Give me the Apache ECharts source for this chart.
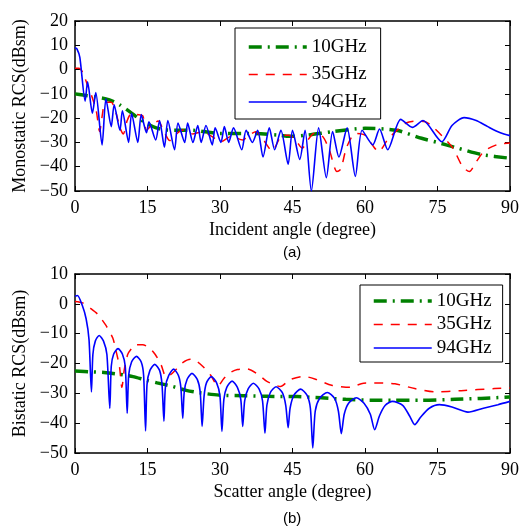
<!DOCTYPE html>
<html>
<head>
<meta charset="utf-8">
<script src="https://cdn.jsdelivr.net/npm/echarts@6/dist/echarts.min.js"></script>
<style>html,body{margin:0;padding:0;background:#fff}#c{width:522px;height:529px}</style>
</head>
<body>
<div id="c"></div>
<script>
// ---------- data (angle in degree, RCS in dBsm) ----------
const seriesNames = ['10GHz', '35GHz', '94GHz'];
const xTickStep = 15;
const xRange = [0, 90];
const yRangeTop = [-50, 20];
const yRangeBottom = [-50, 10];
const yTickStep = 10;

const mono10 = [[0,-10],[1.7,-10.5],[4.1,-11.2],[6.2,-12],[8,-13.2],[9.3,-14.6],[11.3,-17.3],[13,-19.8],[14.8,-22.2],[16.8,-24],[18.9,-24.9],[24.4,-25],[29.9,-26.3],[36,-26.3],[42.2,-27],[44.3,-27.5],[48,-27],[53.2,-25.6],[60,-24.2],[66.5,-25],[71.7,-28.3],[75,-30],[78.6,-32],[84.1,-35],[90,-36.5]];

const mono35 = [[0,0.5],[0.8,0.5],[1.7,-1.5],[2.5,-6],[3.4,-10.5],[4.4,-17],[5.1,-25.5],[5.7,-18],[6.2,-13.5],[7.5,-13.5],[8.5,-18],[9.3,-24],[10,-26.5],[10.8,-21],[11.7,-18],[12.8,-18.5],[14,-19],[14.8,-25],[15.8,-23],[17.2,-21.2],[18.3,-25],[19.6,-29.2],[21,-26.5],[22.3,-24.9],[24.4,-26.5],[26.4,-25.6],[28.3,-27.5],[30.2,-29.7],[32.3,-27.5],[34.7,-29],[36,-27],[37.4,-25.6],[39,-29],[40.8,-33.5],[42.9,-27],[44.3,-27],[45.8,-29.5],[47,-32.4],[48.2,-29],[49.4,-26.3],[51.2,-27.5],[52.6,-33],[54.2,-42],[55,-41],[56.2,-32],[58,-26.3],[60,-27],[61.5,-31],[62.8,-33.8],[64.9,-28.3],[68.5,-22],[70.4,-21.2],[72.5,-21.5],[74,-23.5],[75.8,-27],[78.2,-32.4],[80.2,-40],[81.6,-42],[83,-38],[84.7,-33.5],[87.5,-30.8],[90,-30.2]];

const mono94 = [[0,9],[0.4,8.5],[1,5],[2.1,-13],[2.6,-5],[3.6,-18],[4.3,-9.5],[5.6,-31],[6.4,-12],[7.5,-23.5],[8.1,-14.5],[9.3,-25],[9.8,-17],[11.1,-30],[11.7,-18],[13,-30],[13.7,-18.5],[14.8,-26],[15.3,-21.5],[16.7,-29],[17.5,-21],[18.5,-32],[19.2,-21],[20.6,-33],[21.3,-22],[22.7,-30],[23.3,-22],[24.4,-30],[25.4,-23],[26.1,-30],[27.1,-23],[28.4,-31],[29,-24],[30.2,-30],[30.9,-23.5],[31.8,-30],[32.8,-24],[34.5,-33],[35.4,-25],[36.7,-30],[37.8,-25],[38.9,-36],[40.2,-24],[41.3,-33],[42.6,-25],[44.1,-39],[45,-25],[46.5,-37],[47.6,-25],[48.9,-50],[50.4,-24],[52,-44.5],[53.3,-25.5],[54.6,-36],[56.3,-24],[58,-44],[59.4,-25],[61.6,-31],[63,-24.5],[64.7,-33],[67.4,-20.5],[69.8,-23.8],[72,-21],[75.9,-29.7],[78,-23],[80.5,-19.8],[83,-21],[85.4,-23.5],[88,-26],[90,-27.2]];

const bi10 = [[0,-22.5],[3.5,-22.8],[6,-23],[9.2,-23.6],[12,-24.4],[14.7,-25.6],[17,-26.5],[20.2,-27.7],[23,-29],[25.7,-29.8],[29.8,-30.6],[35,-30.8],[40,-31],[46,-31.1],[51,-31.5],[56,-32],[61.4,-32.3],[66,-32.3],[71.7,-32.3],[78.6,-32],[84,-31.7],[90,-31.2]];

const bi35 = [[0,0.8],[1.6,0.3],[3.2,-1.5],[4.7,-3.5],[6.3,-7],[7.8,-11.4],[8.6,-16.5],[9.2,-21],[9.7,-28],[10.2,-22],[10.9,-17],[11.7,-15],[12.6,-13.7],[14,-13.7],[15.4,-14.8],[16.6,-17],[17.8,-20.4],[18.8,-24.3],[19.6,-24],[20.9,-22],[22.2,-19.8],[23.9,-18.6],[25.2,-19.3],[26.4,-20.9],[28,-23.8],[29.6,-27.5],[30.8,-25],[32.2,-23],[33.6,-22],[35.6,-21.8],[38,-23.8],[39.7,-26],[42.5,-27.7],[44.5,-25.4],[47.3,-24.3],[50,-25.4],[53.1,-27.3],[56.9,-28],[59.7,-26.6],[62.7,-26.5],[66.2,-26.8],[70.3,-28.4],[74.4,-29.5],[79.9,-29.1],[86.8,-28.4],[90,-28.2]];

const bi94 = [[0,2.5],[0.5,2.8],[1.5,-0.5],[2.3,-5],[2.9,-12],[3.4,-29.5],
  [3.7,-17],[4.2,-12.5],[5.0,-10.6],[5.9,-12.5],[6.6,-17],[7.2,-35],
  [7.5,-21],[8.0,-16.8],[8.9,-15],[9.8,-16.8],[10.4,-21],[10.8,-36.7],
  [11.1,-24],[11.7,-19.5],[12.7,-17.6],[13.7,-19.5],[14.2,-24],[14.6,-42.6],
  [14.9,-27],[15.5,-22.3],[16.5,-20.3],[17.5,-22.3],[18.0,-27],[18.4,-39.3],
  [18.7,-28],[19.4,-24],[20.4,-21.9],[21.4,-24],[21.9,-28],[22.3,-38.4],
  [22.6,-29.5],[23.2,-25.3],[24.2,-23.3],[25.3,-25.3],[25.9,-29.5],[26.3,-41.1],
  [26.7,-31],[27.2,-26.5],[28.2,-24.4],[29.3,-26.5],[30.0,-31],[30.4,-42.8],
  [30.8,-32],[31.4,-28],[32.5,-25.9],[33.6,-28],[34.3,-32],[34.7,-41.1],
  [35.1,-32.5],[35.8,-28.6],[36.9,-26.6],[38.1,-28.6],[38.8,-32.5],[39.3,-43.4],
  [39.7,-34],[40.4,-29.8],[41.6,-27.8],[42.9,-29.8],[43.6,-34],[44.1,-41.5],
  [44.5,-35],[45.3,-30.6],[46.7,-28.6],[48.0,-30.6],[48.7,-35],[49.2,-48.3],
  [49.7,-36],[50.6,-31.7],[52.2,-29.7],[53.7,-31.7],[54.5,-36],[55.1,-43.5],
  [55.7,-37],[56.6,-33.3],[58.2,-31.5],[59.8,-33.3],[61.1,-37],[62,-42.2],
  [63,-37.5],[64.2,-34],[65.7,-32.7],[67.8,-34],[69.2,-37.5],[70.3,-40.5],
  [71.5,-38],[73.3,-35],[75.4,-33.8],[78,-34.6],[81.3,-36.3],[84.5,-35],[87.5,-33.8],[90,-32.7]];

// ---------- chart ----------
const serif = 'Liberation Serif';
const black = '#000';
const styles = [
  {color: '#008000', width: 3.5, type: [13, 6, 2, 6]},
  {color: '#ff0000', width: 1.5, type: [9, 8]},
  {color: '#0000ff', width: 1.6, type: 'solid'}
];
const minusFmt = v => String(v).replace('-', '\u2212');

function xAxes(gridIndex, name) {
  const base = {gridIndex, type: 'value', min: xRange[0], max: xRange[1], interval: xTickStep,
    axisLine: {show: true, onZero: false, lineStyle: {color: black, width: 1.5}},
    axisTick: {show: true, inside: true, length: 5, lineStyle: {color: black, width: 1}},
    splitLine: {show: false}};
  return [
    Object.assign({}, base, {position: 'bottom', name, nameLocation: 'middle', nameGap: 30,
      nameTextStyle: {fontFamily: serif, fontSize: 18, color: black},
      axisLabel: {fontFamily: serif, fontSize: 18, color: black, margin: 8, formatter: minusFmt}}),
    Object.assign({}, base, {position: 'top', axisLabel: {show: false}})
  ];
}
function yAxes(gridIndex, range, name) {
  const base = {gridIndex, type: 'value', min: range[0], max: range[1], interval: yTickStep,
    axisLine: {show: true, onZero: false, lineStyle: {color: black, width: 1.5}},
    axisTick: {show: true, inside: true, length: 5, lineStyle: {color: black, width: 1}},
    splitLine: {show: false}};
  return [
    Object.assign({}, base, {position: 'left', name, nameLocation: 'middle', nameGap: 43,
      nameTextStyle: {fontFamily: serif, fontSize: 18, color: black},
      axisLabel: {fontFamily: serif, fontSize: 18, color: black, margin: 7, formatter: minusFmt}}),
    Object.assign({}, base, {position: 'right', axisLabel: {show: false}})
  ];
}
function mkSeries(data, idx, axisOffset) {
  return {type: 'line', name: seriesNames[idx], data, xAxisIndex: axisOffset, yAxisIndex: axisOffset,
    showSymbol: false, symbol: 'none', smooth: 0.25, animation: false, z: idx === 0 ? 2 : 3,
    lineStyle: styles[idx], itemStyle: {color: styles[idx].color}};
}
const legendBase = {orient: 'vertical', itemWidth: 58, itemHeight: 20,
  borderColor: black, borderWidth: 1, backgroundColor: '#fff', selectedMode: false,
  itemStyle: {color: 'rgba(0,0,0,0)', borderColor: 'rgba(0,0,0,0)', borderWidth: 0},
  lineStyle: {width: 'inherit', type: 'inherit'},
  textStyle: {fontFamily: serif, fontSize: 19, color: black, lineHeight: 20},
  data: seriesNames};

const option = {
  animation: false,
  grid: [
    {left: 75, top: 21, width: 437, height: 170},
    {left: 75, top: 274, width: 437, height: 179}
  ],
  xAxis: [...xAxes(0, 'Incident angle (degree)'), ...xAxes(1, 'Scatter angle (degree)')],
  yAxis: [...yAxes(0, yRangeTop, 'Monostatic RCS(dBsm)'), ...yAxes(1, yRangeBottom, 'Bistatic RCS(dBsm)')],
  legend: [
    Object.assign({}, legendBase, {left: 235, top: 28, itemGap: 7.5, padding: [9, 14, 7, 12]}),
    Object.assign({}, legendBase, {left: 360, top: 285, itemGap: 3.5, padding: [6, 11, 4, 12]})
  ],
  graphic: [
    {type: 'text', left: 283, top: 245, style: {text: '(a)', font: '15px "Liberation Sans"', fill: black}},
    {type: 'text', left: 283, top: 511, style: {text: '(b)', font: '15px "Liberation Sans"', fill: black}}
  ],
  series: [
    mkSeries(mono10, 0, 0), mkSeries(mono35, 1, 0), mkSeries(mono94, 2, 0),
    mkSeries(bi10, 0, 2), mkSeries(bi35, 1, 2), mkSeries(bi94, 2, 2)
  ]
};
const chart = echarts.init(document.getElementById('c'), null, {renderer: 'canvas'});
chart.setOption(option);
</script>
</body>
</html>
